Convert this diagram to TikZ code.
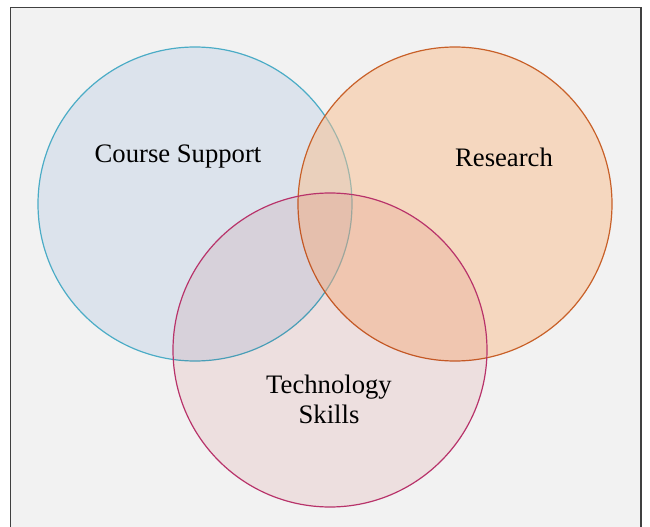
\documentclass[tikz,border=0pt]{standalone}
\usepackage{fontspec}
\setmainfont{Liberation Serif}
\tikzset{every picture/.style={line width=0.75pt}}
\tikzset{
  venn/.style={line width=0.9pt, fill opacity=0.5},
  label/.style={font=\fontsize{20}{22.5}\selectfont, text=black, align=center}
}
\begin{document}
\begin{tikzpicture}[x=0.75pt,y=0.75pt,yscale=-1,xscale=1]
\useasboundingbox (0,0) rectangle (650,527);
%Shape: Frame
\draw [color={rgb, 255:red, 64; green, 64; blue, 64 }, fill={rgb, 255:red, 242; green, 242; blue, 242 }, line width=1.2pt] (10.5,7.5) -- (641,7.5) -- (641,540) -- (10.5,540) -- cycle ;
%Shape: Circle Course Support
\draw [venn, color={rgb, 255:red, 75; green, 172; blue, 198 }, fill={rgb, 255:red, 200; green, 214; blue, 232 }] (195,204) circle (157) ;
%Shape: Circle Research
\draw [venn, color={rgb, 255:red, 200; green, 96; blue, 40 }, fill={rgb, 255:red, 248; green, 190; blue, 142 }] (455,204) circle (157) ;
%Shape: Circle Technology Skills
\begin{scope}[blend mode=multiply]
\fill [fill={rgb, 255:red, 250; green, 235; blue, 236 }] (330,350) circle (157) ;
\end{scope}
\draw [line width=0.9pt, color={rgb, 255:red, 184; green, 51; blue, 106 }] (330,350) circle (157) ;

% Text Node
\draw (178,157) node [label] (course) {Course Support};
% Text Node
\draw (504,157) node [label] (research) {Research};
% Text Node
\draw (329,399) node [label] (tech) {Technology\\Skills};

\end{tikzpicture}
\end{document}
